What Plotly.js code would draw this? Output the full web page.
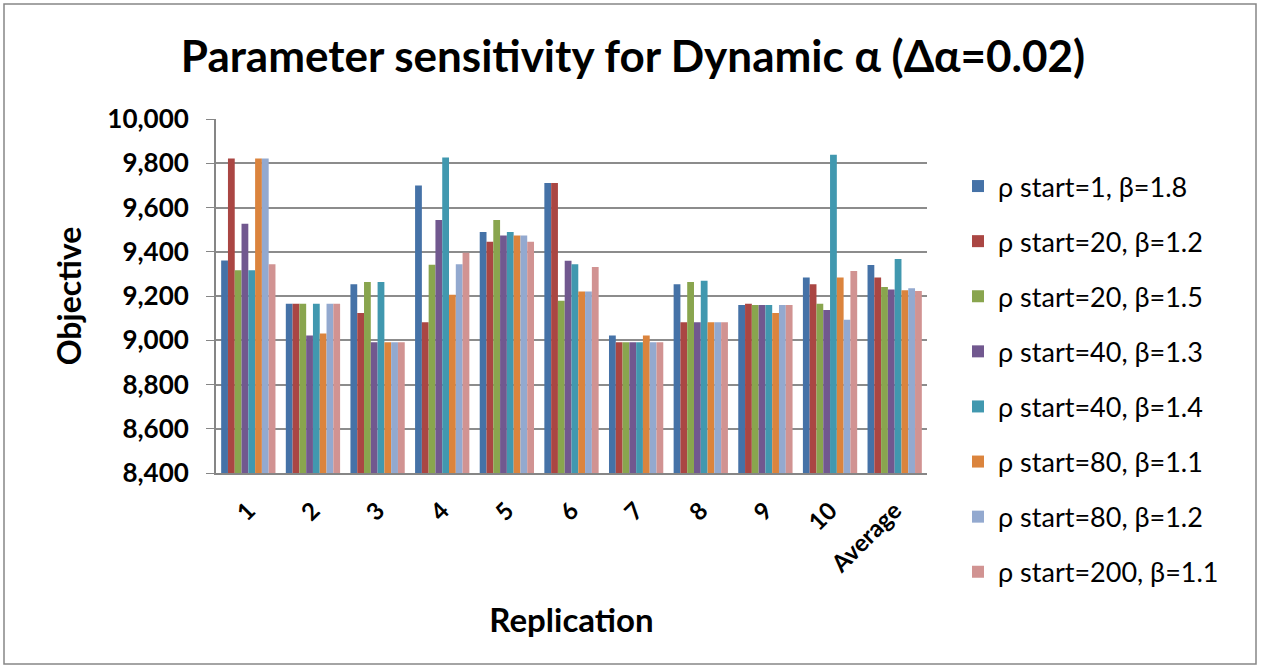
<!DOCTYPE html>
<html>
<head>
<meta charset="utf-8">
<script src="https://cdn.plot.ly/plotly-3.0.1.min.js"></script>
<style>body{margin:0;background:#fff}#chart{width:1261px;height:669px}</style>
</head>
<body>
<div id="chart"></div>
<script>
const categories = ["1","2","3","4","5","6","7","8","9","10","Average"];
const seriesNames = ["ρ start=1, β=1.8","ρ start=20, β=1.2","ρ start=20, β=1.5","ρ start=40, β=1.3","ρ start=40, β=1.4","ρ start=80, β=1.1","ρ start=80, β=1.2","ρ start=200, β=1.1"];
const s1 = [9360, 9165, 9253, 9699, 9489, 9711, 9021, 9253, 9159, 9284, 9340];
const s2 = [9821, 9165, 9123, 9081, 9445, 9711, 8991, 9081, 9165, 9253, 9284];
const s3 = [9316, 9165, 9263, 9341, 9544, 9179, 8991, 9263, 9159, 9165, 9241];
const s4 = [9526, 9021, 8991, 9544, 9474, 9359, 8991, 9081, 9159, 9137, 9229];
const s5 = [9316, 9165, 9263, 9826, 9489, 9344, 8991, 9269, 9159, 9838, 9367];
const s6 = [9821, 9030, 8991, 9206, 9474, 9220, 9021, 9081, 9123, 9284, 9226];
const s7 = [9821, 9165, 8991, 9344, 9474, 9220, 8991, 9081, 9159, 9093, 9235];
const s8 = [9344, 9165, 8991, 9395, 9445, 9331, 8991, 9081, 9159, 9313, 9223];
const seriesValues = [s1, s2, s3, s4, s5, s6, s7, s8];
const colors = ["#4572A7","#AA4643","#89A54E","#71588F","#4198AF","#DB843D","#93A9CF","#D19392"];

const FONT = "Lato, 'Open Sans', sans-serif";
const traces = seriesValues.map((v, i) => ({
  type: "bar",
  name: seriesNames[i],
  x: categories,
  y: v,
  legendgroup: "g" + i,
  marker: {color: colors[i], line: {width: 0}}
}));

const L = 216, R = 927, T = 119, B = 473, W = 1261, H = 669;
const px = x => (x - L) / (R - L);
const py = y => (B - y) / (B - T);

const layout = {
  width: W, height: H,
  margin: {l: L, r: W - R, t: T, b: H - B, pad: 0},
  paper_bgcolor: "#fff", plot_bgcolor: "#fff",
  font: {family: FONT, color: "#000"},
  title: {
    text: "<b>Parameter sensitivity for Dynamic α (Δα=0.02)</b>",
    font: {size: 44, family: FONT, color: "#000"},
    x: 633 / W, xref: "container", xanchor: "center",
    y: 1 - 57 / H, yref: "container", yanchor: "middle"
  },
  barmode: "group",
  bargap: 0.16,
  bargroupgap: 0,
  xaxis: {
    type: "category",
    tickangle: -45,
    tickfont: {size: 24, family: FONT, color: "#000", weight: "bold"},
    ticklabelstandoff: 12,
    showline: true, linecolor: "#868686", linewidth: 2,
    ticks: "", showgrid: false,
    title: {text: "<b>Replication</b>", font: {size: 33, family: FONT}, standoff: 32}
  },
  yaxis: {
    range: [8400, 10000],
    dtick: 200,
    tickformat: ",d",
    tickfont: {size: 26, family: FONT, color: "#000", weight: "bold"},
    showline: true, linecolor: "#868686", linewidth: 2,
    showgrid: true, gridcolor: "#8c8c8c", gridwidth: 2,
    ticks: "outside", ticklen: 8, tickcolor: "#868686",
    ticklabelstandoff: 12,
    zeroline: false,
    title: {text: "<b>Objective</b>", font: {size: 32, family: FONT}, standoff: 16}
  },
  legend: {
    x: px(958), xanchor: "left",
    y: py(162), yanchor: "top",
    font: {size: 27, family: FONT, color: "#000"},
    traceorder: "grouped",
    tracegroupgap: 17,
    itemwidth: 30,
    maxheight: 640,
    bgcolor: "rgba(0,0,0,0)"
  },
  showlegend: true,
  shapes: [{
    type: "rect", xref: "paper", yref: "paper",
    x0: px(4), x1: px(1256), y0: py(664), y1: py(4),
    line: {color: "#868686", width: 1.5}, fillcolor: "rgba(0,0,0,0)", layer: "below"
  }]
};

Plotly.newPlot("chart", traces, layout, {displayModeBar: false, staticPlot: true});
</script>
</body>
</html>
